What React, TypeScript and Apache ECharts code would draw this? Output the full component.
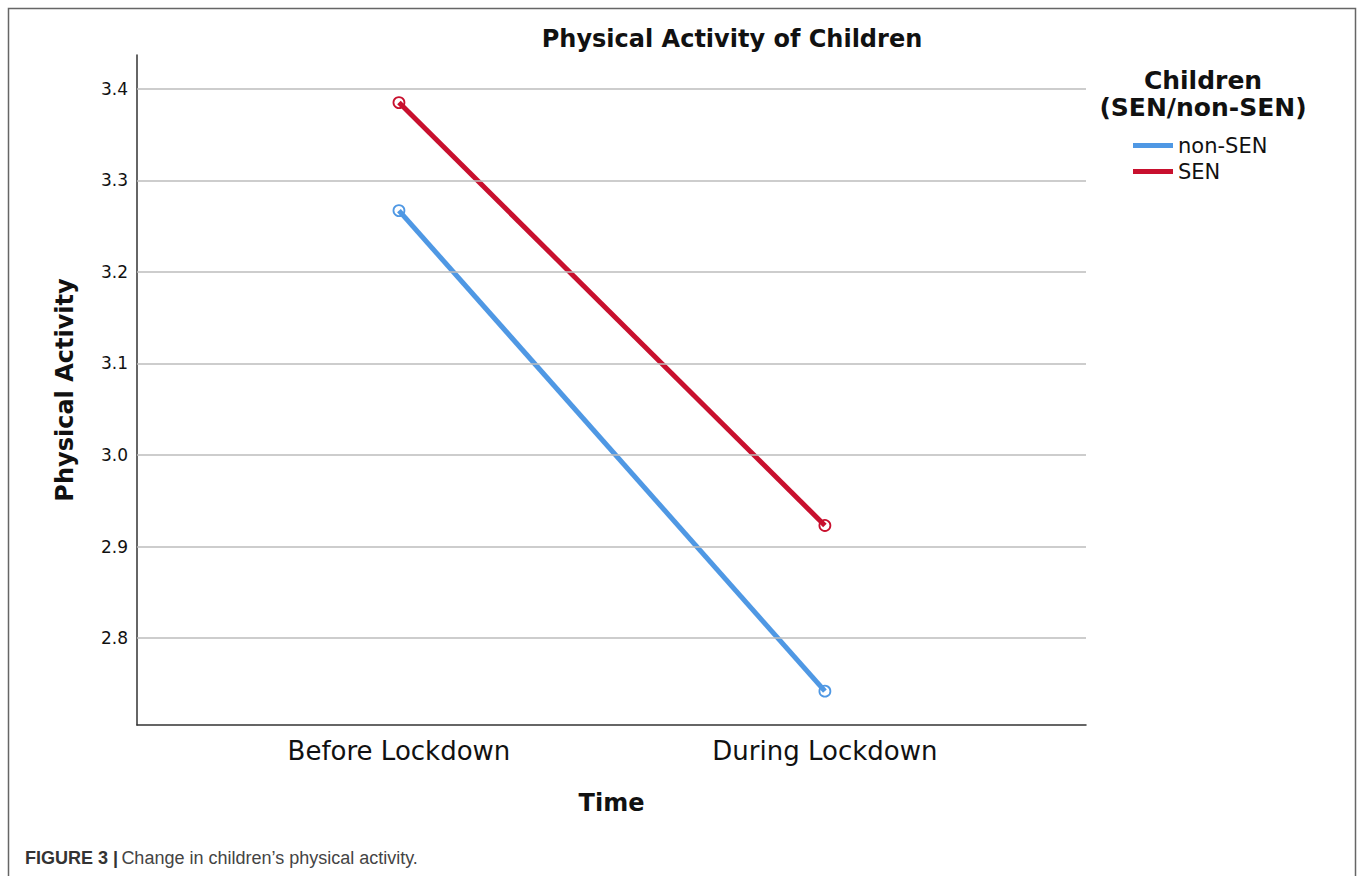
import React, { useEffect, useRef } from "react";
import * as echarts from "echarts";

const categories = ["Before Lockdown", "During Lockdown"];
const nonSEN = [3.267, 2.742];
const SEN = [3.385, 2.923];
const yTicks = [2.8, 2.9, 3.0, 3.1, 3.2, 3.3, 3.4];

const BLUE = "#4f98e4";
const RED = "#c8102e";
const FONT = "DejaVu Sans";

export default function App() {
  const ref = useRef<HTMLDivElement>(null);
  useEffect(() => {
    if (!ref.current) return;
    const chart = echarts.init(ref.current, null, { renderer: "svg" });
    const mk = (vals: number[]) => vals.map((v, i) => [i, v]);
    const gridLines = {
      silent: true,
      symbol: "none",
      label: { show: false },
      lineStyle: { color: "#bdbdbd", width: 1.5, type: "solid" },
      data: yTicks.map((v) => ({ yAxis: v })),
    };
    chart.setOption({
      animation: false,
      backgroundColor: "#fff",
      textStyle: { fontFamily: FONT },
      title: {
        text: "Physical Activity of Children",
        left: 727,
        top: 22,
        textAlign: "center",
        textStyle: { fontFamily: FONT, fontWeight: "bold", fontSize: 24, color: "#111" },
      },
      grid: { left: 137, right: 271, top: 55, bottom: 151 },
      xAxis: {
        type: "value",
        min: -0.615,
        max: 1.613,
        name: "Time",
        nameLocation: "middle",
        nameGap: 66,
        nameTextStyle: { fontFamily: FONT, fontWeight: "bold", fontSize: 24, color: "#111" },
        axisLine: { show: true, onZero: false, lineStyle: { color: "#333", width: 1.5 } },
        axisTick: { show: false },
        splitLine: { show: false },
        axisLabel: {
          customValues: [0, 1],
          margin: 13,
          fontFamily: FONT,
          fontSize: 26,
          color: "#111",
          formatter: (v: number) => categories[Math.round(v)] ?? "",
        },
      },
      yAxis: {
        type: "value",
        min: 2.705,
        max: 3.437,
        name: "Physical Activity",
        nameLocation: "middle",
        nameGap: 60,
        nameTextStyle: { fontFamily: FONT, fontWeight: "bold", fontSize: 24, color: "#111" },
        axisLine: { show: true, onZero: false, lineStyle: { color: "#333", width: 1.5 } },
        axisTick: { show: false },
        splitLine: { show: false },
        axisLabel: {
          customValues: yTicks,
          margin: 9,
          fontFamily: FONT,
          fontSize: 17,
          color: "#111",
          formatter: (v: number) => v.toFixed(1),
        },
      },
      legend: {
        orient: "vertical",
        left: 1133,
        top: 135,
        padding: 0,
        itemWidth: 40,
        itemHeight: 5,
        itemGap: 5,
        icon: "rect",
        textStyle: { fontFamily: FONT, fontSize: 21, color: "#111" },
        data: [
          { name: "non-SEN", itemStyle: { color: BLUE, borderWidth: 0 } },
          { name: "SEN", itemStyle: { color: RED, borderWidth: 0 } },
        ],
      },
      series: [
        {
          name: "non-SEN",
          type: "line",
          color: BLUE,
          data: mk(nonSEN),
          symbol: "circle",
          symbolSize: 11,
          lineStyle: { color: BLUE, width: 5 },
          itemStyle: { color: "rgba(0,0,0,0)", borderColor: BLUE, borderWidth: 1.8 },
          markLine: gridLines,
          z: 3,
        },
        {
          name: "SEN",
          type: "line",
          color: RED,
          data: mk(SEN),
          symbol: "circle",
          symbolSize: 11,
          lineStyle: { color: RED, width: 5 },
          itemStyle: { color: "rgba(0,0,0,0)", borderColor: RED, borderWidth: 1.8 },
          z: 3,
        },
      ],
      graphic: [
        {
          type: "rect",
          shape: { x: 8.5, y: 8.5, width: 1347, height: 1000 },
          style: { fill: "none", stroke: "#666", lineWidth: 1.5 },
          silent: true,
        },
        {
          type: "text",
          x: 1203,
          y: 94,
          style: {
            text: "Children\n(SEN/non-SEN)",
            align: "center",
            verticalAlign: "middle",
            fontFamily: FONT,
            fontWeight: "bold",
            fontSize: 25,
            lineHeight: 27,
            fill: "#111",
          },
        },
        {
          type: "text",
          x: 25,
          y: 858,
          style: {
            text: "{b|FIGURE 3 |} {r|Change in children’s physical activity.}",
            verticalAlign: "middle",
            rich: {
              b: { fontFamily: "Liberation Sans", fontWeight: "bold", fontSize: 18, fill: "#333" },
              r: { fontFamily: "Liberation Sans", fontSize: 18, fill: "#444" },
            },
          },
        },
      ],
    });
    return () => chart.dispose();
  }, []);
  return (
    <div
      ref={ref}
      style={{ position: "fixed", left: 0, top: 0, width: 1357, height: 876 }}
    />
  );
}
